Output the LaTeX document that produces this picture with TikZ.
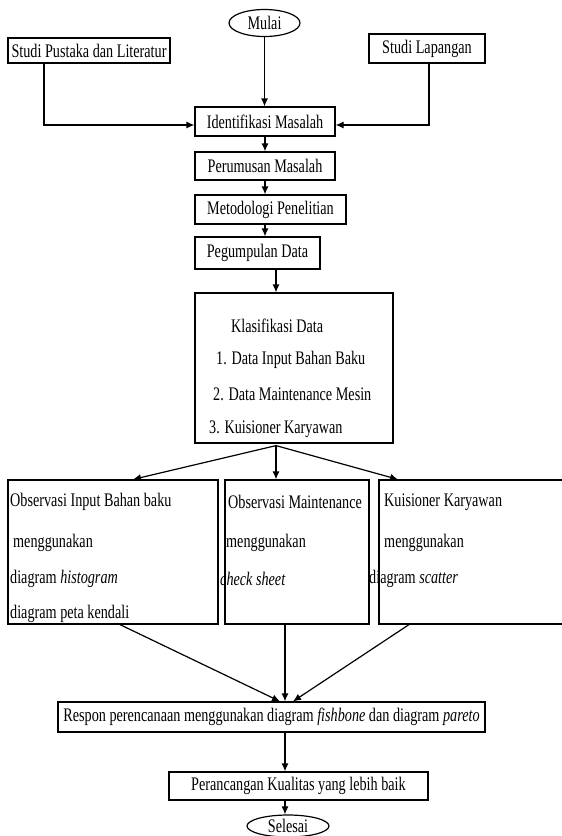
\documentclass[tikz,border=0pt]{standalone}
\usepackage{fontspec}
\setmainfont{Liberation Serif}
\usetikzlibrary{shapes.geometric,arrows.meta}
\newcommand{\vst}[1]{\scalebox{1}[1.35]{#1}}
\begin{document}
\begin{tikzpicture}[x=1pt,y=-1pt,
  txt/.style={font=\fontsize{14.2}{16}\selectfont},
  box/.style={draw,line width=1.2pt,rectangle,inner sep=0pt,txt},
  oval/.style={draw,line width=1.2pt,ellipse,inner sep=0pt,txt},
  lbl/.style={inner sep=0pt,anchor=west,txt},
  arr/.style={line width=1.2pt,-{Latex[length=8pt,width=7pt]}}]
\useasboundingbox (0,0) rectangle (562,836);
\fill[white] (0,0) rectangle (562,836);

\node[oval,minimum width=71pt,minimum height=27pt] (mulai) at (264.5,23) {\vst{Mulai}};
\node[box,minimum width=162pt,minimum height=25pt] (pustaka) at (89,50.5) {\vst{Studi Pustaka dan Literatur}};
\node[box,minimum width=116pt,minimum height=29pt] (lapangan) at (427,48.5) {\vst{Studi Lapangan}};
\node[box,minimum width=140pt,minimum height=29pt] (ident) at (265,121.5) {\vst{Identifikasi Masalah}};
\node[box,minimum width=140pt,minimum height=28pt] (rumus) at (265,166) {\vst{Perumusan Masalah}};
\node[box,minimum width=151pt,minimum height=29pt] (metod) at (270.5,209.5) {\vst{Metodologi Penelitian}};
\node[box,minimum width=125pt,minimum height=32pt] (kumpul) at (257.5,253) {\vst{Pegumpulan Data}};
\node[box,minimum width=198pt,minimum height=150pt] (klas) at (294,368) {};
\node[box,minimum width=210pt,minimum height=144pt] (obs1) at (113,552) {};
\node[box,minimum width=144pt,minimum height=144pt] (obs2) at (297,552) {};
\node[box,minimum width=196pt,minimum height=144pt] (obs3) at (477,552) {};
\node[box,minimum width=427pt,minimum height=30pt] (respon) at (271.5,717) {\vst{Respon perencanaan menggunakan diagram \textit{fishbone} dan diagram \textit{pareto}}};
\node[box,minimum width=259pt,minimum height=28pt] (peranc) at (298.5,786) {\vst{Perancangan Kualitas yang lebih baik}};
\node[oval,minimum width=82pt,minimum height=22pt] (selesai) at (288,826) {\vst{Selesai}};

% texts in Klasifikasi
\node[lbl] (k0) at (231,326) {\vst{Klasifikasi Data}};
\node[lbl] (k1) at (216,360) {\vst{1. Data Input Bahan Baku}};
\node[lbl] (k2) at (213,394) {\vst{2. Data Maintenance Mesin}};
\node[lbl] (k3) at (209,429) {\vst{3. Kuisioner Karyawan}};

% texts in observation boxes
\node[lbl] (a1) at (10,502) {\vst{Observasi Input Bahan baku}};
\node[lbl] (a2) at (13,543) {\vst{menggunakan}};
\node[lbl] (a3) at (10,579) {\vst{diagram \textit{histogram}}};
\node[lbl] (a4) at (10,614) {\vst{diagram peta kendali}};
\node[lbl] (b1) at (228,502) {\vst{Observasi Maintenance}};
\node[lbl] (b2) at (226,543) {\vst{menggunakan}};
\node[lbl] (b3) at (220,579) {\vst{\textit{check sheet}}};
\node[lbl] (c1) at (384,502) {\vst{Kuisioner Karyawan}};
\node[lbl] (c2) at (384,543) {\vst{menggunakan}};
\node[lbl] (c3) at (369,579) {\vst{diagram \textit{scatter}}};

% connectors
\draw[arr] (mulai.south) -- (mulai.south |- ident.north);
\draw[arr] ([xshift=-45pt]pustaka.south) |- ([yshift=-3.5pt]ident.west);
\draw[arr] ([xshift=2pt]lapangan.south) |- ([yshift=-3.5pt]ident.east);
\draw[arr] (ident.south) -- (rumus.north);
\draw[arr] (rumus.south) -- (rumus.south |- metod.north);
\draw[arr] (rumus.south |- metod.south) -- (rumus.south |- kumpul.north);
\draw[arr] ([xshift=18.5pt]kumpul.south) -- ([xshift=18.5pt]kumpul.south |- klas.north);
\coordinate (kb) at ([xshift=-18pt,yshift=-2pt]klas.south);
\draw[arr] (kb) -- ([xshift=20pt]obs1.north);
\draw[arr] (kb) -- (kb |- obs2.north);
\draw[arr] (kb) -- ([xshift=-79pt]obs3.north);
\draw[arr] ([xshift=7pt]obs1.south) -- ([xshift=8.5pt]respon.north);
\draw[arr] ([xshift=-12pt]obs2.south) -- ([xshift=13.5pt]respon.north);
\draw[arr] ([xshift=-68pt]obs3.south) -- ([xshift=21.5pt]respon.north);
\draw[arr] ([xshift=13.5pt]respon.south) -- ([xshift=13.5pt]respon.south |- peranc.north);
\draw[arr] ([xshift=-3pt]selesai.north |- peranc.south) -- ([xshift=-3pt]selesai.north);
\end{tikzpicture}
\end{document}
